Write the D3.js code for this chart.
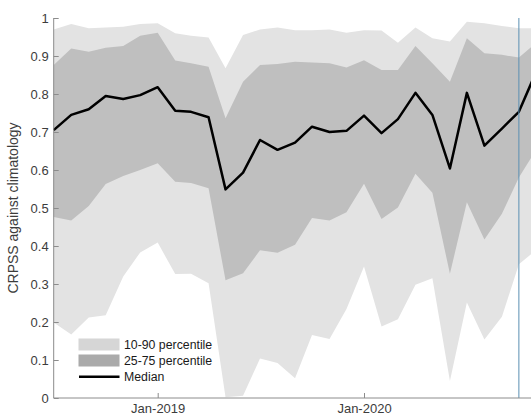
<!DOCTYPE html>
<html>
<head>
<meta charset="utf-8">
<script src="https://cdn.jsdelivr.net/npm/d3@7"></script>
<style>
  html, body { margin: 0; padding: 0; background: #fff; }
  svg { display: block; }
  text { font-family: "Liberation Sans", Arial, Helvetica, sans-serif; }
</style>
</head>
<body>
<div id="chart"></div>
<script>
// ---- data (monthly, Jul-2018 .. Nov-2020) ----
const months = ["2018-07","2018-08","2018-09","2018-10","2018-11","2018-12",
  "2019-01","2019-02","2019-03","2019-04","2019-05","2019-06","2019-07","2019-08",
  "2019-09","2019-10","2019-11","2019-12","2020-01","2020-02","2020-03","2020-04",
  "2020-05","2020-06","2020-07","2020-08","2020-09","2020-10","2020-11"];
const median = [0.705,0.745,0.760,0.795,0.787,0.797,0.818,0.756,0.753,0.739,0.549,0.593,
  0.679,0.653,0.672,0.714,0.700,0.703,0.743,0.697,0.734,0.803,0.745,0.604,0.803,0.664,
  0.709,0.753,0.860];
const p90 = [0.970,0.984,0.973,0.975,0.977,0.984,0.986,0.960,0.953,0.949,0.868,0.955,
  0.970,0.975,0.968,0.968,0.970,0.961,0.968,0.967,0.935,0.975,0.947,0.938,0.990,0.986,
  0.979,0.973,0.973];
const p75 = [0.876,0.920,0.911,0.922,0.926,0.953,0.961,0.888,0.881,0.872,0.736,0.832,
  0.876,0.879,0.885,0.883,0.881,0.870,0.889,0.863,0.863,0.926,0.881,0.832,0.947,0.907,
  0.903,0.896,0.935];
const p25 = [0.476,0.467,0.505,0.563,0.584,0.600,0.618,0.569,0.566,0.552,0.310,0.328,
  0.389,0.382,0.403,0.474,0.467,0.489,0.564,0.471,0.501,0.590,0.540,0.327,0.515,0.417,
  0.485,0.580,0.655];
const p10 = [0.199,0.167,0.212,0.218,0.320,0.383,0.409,0.326,0.327,0.302,0.002,0.006,
  0.104,0.092,0.052,0.166,0.155,0.234,0.346,0.188,0.207,0.298,0.315,0.045,0.251,0.154,
  0.214,0.352,0.390];
const xTickDates = ["2019-01","2020-01"];
const xTickLabels = ["Jan-2019","Jan-2020"];
const yTicks = [0,0.1,0.2,0.3,0.4,0.5,0.6,0.7,0.8,0.9,1];
const markerMonth = "2020-10";
const legendLabels = ["10-90 percentile","25-75 percentile","Median"];

// ---- layout ----
const W = 531, H = 416;
const parse = s => { const [y,m] = s.split("-").map(Number); return new Date(Date.UTC(y, m-1, 1)); };
const x = d3.scaleUtc()
  .domain([parse("2018-07"), parse("2020-11")])
  .range([53.7, 536.4]);
const y = d3.scaleLinear().domain([0,1]).range([398,18]);

const data = months.map((m,i) => ({d: parse(m), med: median[i], p10: p10[i], p25: p25[i], p75: p75[i], p90: p90[i]}));

const svg = d3.select("#chart").append("svg").attr("width", W).attr("height", H);

const cLight = "#e3e3e3", cDark = "#bfbfbf";
const lgLight = "#d6d6d6", lgDark = "#aaaaaa";

svg.append("path").datum(data)
  .attr("fill", cLight)
  .attr("d", d3.area().x(d => x(d.d)).y0(d => y(d.p10)).y1(d => y(d.p90)));
svg.append("path").datum(data)
  .attr("fill", cDark)
  .attr("d", d3.area().x(d => x(d.d)).y0(d => y(d.p25)).y1(d => y(d.p75)));
svg.append("path").datum(data)
  .attr("fill", "none").attr("stroke", "#000").attr("stroke-width", 2.5)
  .attr("stroke-linejoin", "round")
  .attr("d", d3.line().x(d => x(d.d)).y(d => y(d.med)));

// vertical marker line
svg.append("line")
  .attr("x1", x(parse(markerMonth))).attr("x2", x(parse(markerMonth)))
  .attr("y1", y(1)).attr("y2", y(0))
  .attr("stroke", "#5a8fb3").attr("stroke-width", 1);

// axes
const axisColor = "#8c8c8c", textColor = "#3c3c3c";
const yAxis = svg.append("g").attr("transform", `translate(${x.range()[0]},0)`)
  .call(d3.axisRight(y).tickValues(yTicks).tickSize(5).tickFormat(d3.format("~g")));
yAxis.select(".domain").attr("stroke", axisColor).attr("d", `M0,${y(1)}V${y(0)}`);
yAxis.selectAll(".tick line").attr("stroke", axisColor);
yAxis.selectAll(".tick text")
  .attr("x", -5).attr("text-anchor", "end")
  .attr("fill", textColor).style("font-size", "13px");

const xAxis = svg.append("g").attr("transform", `translate(0,${y(0)})`)
  .call(d3.axisTop(x).tickValues(xTickDates.map(parse)).tickSize(5)
    .tickFormat((d,i) => xTickLabels[i]));
xAxis.select(".domain").attr("stroke", axisColor).attr("d", `M${x.range()[0]},0H${W}`);
xAxis.selectAll(".tick line").attr("stroke", axisColor);
xAxis.selectAll(".tick text")
  .attr("y", 14.5).attr("dy", null)
  .attr("fill", textColor).style("font-size", "13px");

// y label
svg.append("text")
  .attr("transform", `translate(18,${(y(0)+y(1))/2}) rotate(-90)`)
  .attr("text-anchor", "middle")
  .attr("fill", textColor).style("font-size", "14px")
  .text("CRPSS against climatology");

// legend
const lg = svg.append("g");
lg.append("rect").attr("x", 78.5).attr("y", 338.5).attr("width", 41).attr("height", 12).attr("fill", lgLight);
lg.append("rect").attr("x", 78.5).attr("y", 354.5).attr("width", 41).attr("height", 12).attr("fill", lgDark);
lg.append("line").attr("x1", 79).attr("x2", 119.5).attr("y1", 376.7).attr("y2", 376.7)
  .attr("stroke", "#000").attr("stroke-width", 2.5);
[344.5, 360.5, 376.7].forEach((cy, i) => {
  lg.append("text").attr("x", 124).attr("y", cy).attr("dy", "0.35em")
    .attr("fill", "#1a1a1a").style("font-size", "12.3px").text(legendLabels[i]);
});
</script>
</body>
</html>
